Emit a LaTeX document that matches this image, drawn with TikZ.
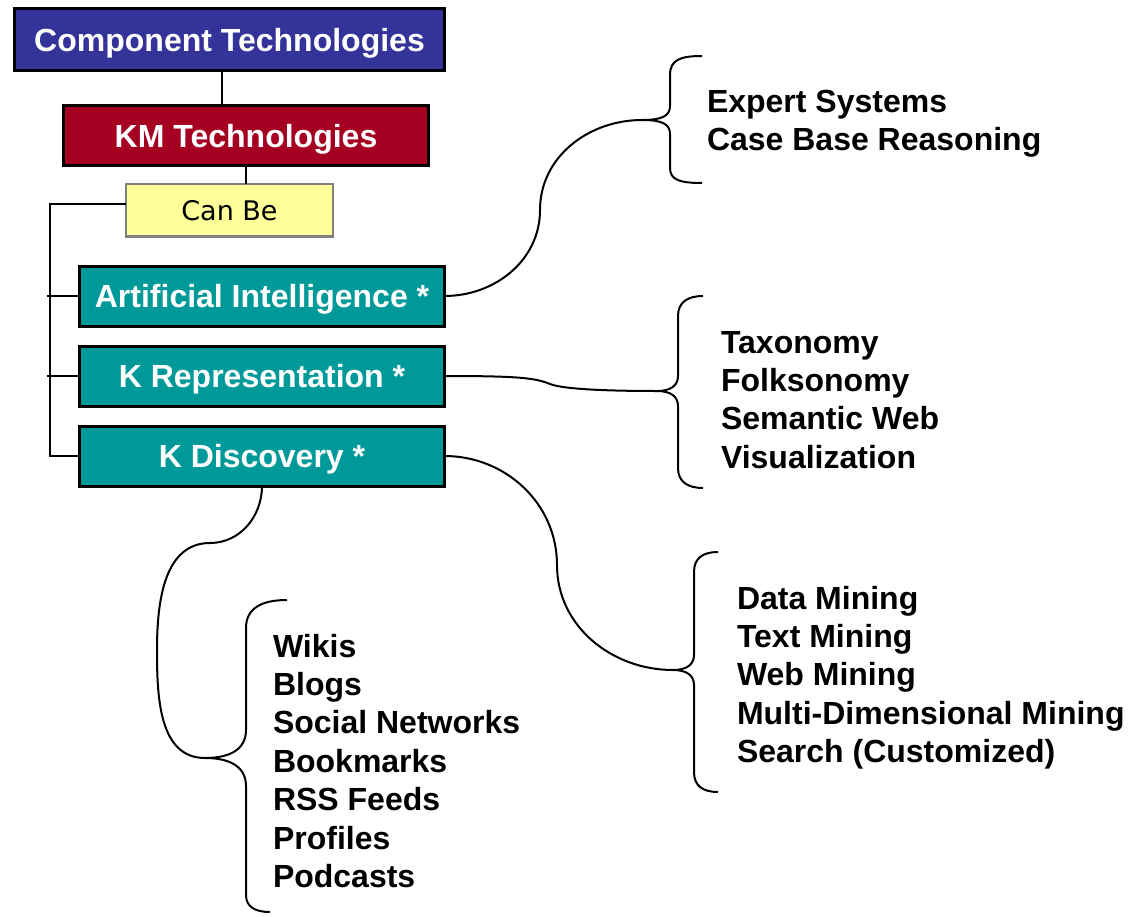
\documentclass[tikz,border=0pt]{standalone}
\usepackage{fontspec}
\setmainfont{Liberation Sans}
\newfontfamily\canfont{DejaVu Sans}
\usetikzlibrary{calc}
\usetikzlibrary{positioning}

\definecolor{ctblue}{HTML}{333399}
\definecolor{kmred}{HTML}{A50021}
\definecolor{canyellow}{HTML}{FFFF99}
\definecolor{kteal}{HTML}{009999}

\begin{document}
\begin{tikzpicture}
  [
  x=1pt, y=-1pt,
  % 文字の設定
  every node/.style={inner sep=0, outer sep=0,
  font=\bfseries\fontsize{32}{38.4}\selectfont},
  % ボックス
  box/.style={rectangle, draw, line width=3pt, text=white,
  text height=23pt, text depth=0pt,
  minimum height=60pt, minimum width=365pt},
  % 項目のリスト
  list/.style={anchor=north west, align=left},
  % 線
  link/.style={line width=2pt},
  % 括弧
  brace/.style={line width=2pt, line join=round}
  ]
  \useasboundingbox (0,0) rectangle (1131,917);

  % 上のボックス
  \node [box, fill=ctblue, minimum width=430pt, minimum height=62pt]
  (ct) at (229.5,40) {Component Technologies};
  \node [box, fill=kmred] (km) at (246,136) {KM Technologies};
  \node [rectangle, draw=gray, line width=2pt, fill=canyellow,
  text height=20pt, text depth=0pt,
  minimum width=207pt, minimum height=52pt,
  font=\canfont\fontsize{27}{33}\selectfont] (canbe) at (229.5,210.5) {Can Be};
  \node [box, fill=kteal] (ai) at (262,296) {Artificial Intelligence *};
  \node [box, fill=kteal, below=20pt of ai] (kr) {K Representation *};
  \node [box, fill=kteal, below=20pt of kr] (kd) {K Discovery *};

  \draw [link] ([xshift=-7.5pt]ct.south) -- ([xshift=-7.5pt]ct.south |- km.north);
  \draw [link] (km.south) -- (km.south |- canbe.north);
  \draw [link] ([yshift=6.5pt]canbe.west) -| ([xshift=-30pt]kd.west) -- (kd.west);
  \draw [link] ([xshift=-33pt]ai.west) -- (ai.west);
  \draw [link] ([xshift=-33pt]kr.west) -- (kr.west);

  % リスト
  \node [list] (expert) at (707,90) {Expert Systems\\Case Base Reasoning};
  \node [list] (taxonomy) at (721,331) {Taxonomy\\Folksonomy\\Semantic Web\\Visualization};
  \node [list] (mining) at (737,586) {Data Mining\\Text Mining\\Web Mining\\Multi-Dimensional Mining\\Search (Customized)};
  \node [list] (wikis) at (273,634) {Wikis\\Blogs\\Social Networks\\Bookmarks\\RSS Feeds\\Profiles\\Podcasts};

  % 括弧の先
  \coordinate (aitip) at (642,120);
  \coordinate (krtip) at (657,391);
  \coordinate (kdtip) at (673,670);
  \coordinate (webtip) at (205,758);

  % 括弧
  \draw [brace] (702,56) .. controls (680,56) and (670,60) .. (670,75)
  -- (670,106) .. controls (670,116) and (662,120) .. (aitip)
  .. controls (662,120) and (670,124) .. (670,134)
  -- (670,168) .. controls (670,180) and (680,183) .. (702,183);
  \draw [brace] (703,296) .. controls (688,296) and (678,302) .. (678,316)
  -- (678,376) .. controls (678,386) and (670,391) .. (krtip)
  .. controls (670,391) and (678,396) .. (678,406)
  -- (678,468) .. controls (678,482) and (688,488) .. (703,488);
  \draw [brace] (718,552) .. controls (703,552) and (694,558) .. (694,572)
  -- (694,655) .. controls (694,665) and (686,670) .. (kdtip)
  .. controls (686,670) and (694,675) .. (694,685)
  -- (694,772) .. controls (694,786) and (703,792) .. (718,792);
  \draw [brace] (287,600) .. controls (262,600) and (246,608) .. (246,628)
  -- (246,730) .. controls (246,748) and (232,758) .. (webtip)
  .. controls (232,758) and (246,768) .. (246,786)
  -- (246,895) .. controls (246,906) and (254,912) .. (270,912);

  % 曲線
  \draw [link] (ai.east) to[out=0, in=-90] (540,210) to[out=90, in=180] (aitip);
  \draw [link] (kr.east) .. controls (520,376) and (535,378) .. (550,384)
  .. controls (565,390) and (620,391) .. (krtip);
  \draw [link] (kd.east) to[out=0, in=90] (557,565) to[out=-90, in=180] (kdtip);
  \draw [link] (kd.south) to[out=-90, in=0] (210,543) to[out=180, in=90] (157,650)
  to[out=-90, in=180] (webtip);
\end{tikzpicture}
\end{document}
